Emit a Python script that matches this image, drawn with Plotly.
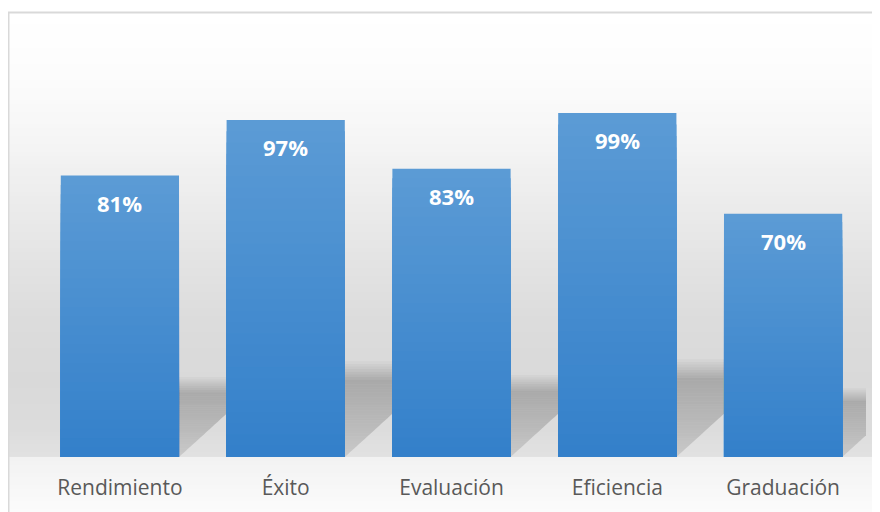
import plotly.graph_objects as go

# ---- data ----
categorias = ["Rendimiento", "Éxito", "Evaluación", "Eficiencia", "Graduación"]
valores = [81, 97, 83, 99, 70]
etiquetas = ["81%", "97%", "83%", "99%", "70%"]

# the page puts the figure 8px in from the top-left corner
OFF = 8
W, H = 880 - OFF, 512 - OFF
BASE_PX = 457          # baseline (page pixels)
TOP_PX = 40.1          # top of y range (page pixels)
Y_MAX = 120
PX_PER_UNIT = (BASE_PX - TOP_PX) / Y_MAX
X_LEFT, X_RIGHT = 37, 866
BAR_W = 0.713


def px_x(p):
    return (p - OFF) / W


def px_y(p):
    return 1 - (p - OFF) / H


def mix(c1, c2, t):
    return "rgb(%d,%d,%d)" % tuple(round(a + (b - a) * t) for a, b in zip(c1, c2))


def gray_at(p, stops):
    for (p0, g0), (p1, g1) in zip(stops, stops[1:]):
        if p0 <= p <= p1:
            t = (p - p0) / (p1 - p0) if p1 > p0 else 0
            return g0 + (g1 - g0) * t
    return stops[-1][1]


shapes = []

# -------- chart area background (vertical gradient) --------
wall = [(12, 255), (60, 253), (120, 248), (180, 239), (250, 229),
        (320, 220), (380, 217), (430, 220), (457, 226)]
step = 4
p = 12
while p < BASE_PX:
    q = min(p + step, BASE_PX)
    g = round(gray_at((p + q) / 2, wall))
    shapes.append(dict(type="rect", xref="paper", yref="paper", layer="below",
                       x0=px_x(8), x1=px_x(880 + 5), y0=px_y(q + 0.5), y1=px_y(p),
                       fillcolor="rgb(%d,%d,%d)" % (g, g, g), line=dict(width=0)))
    p = q

floor = [(457, 242), (512, 251)]
p = BASE_PX
while p < 512:
    q = min(p + step, 512)
    g = round(gray_at((p + q) / 2, floor))
    shapes.append(dict(type="rect", xref="paper", yref="paper", layer="below",
                       x0=px_x(8), x1=px_x(880 + 5), y0=px_y(q + 0.5), y1=px_y(p),
                       fillcolor="rgb(%d,%d,%d)" % (g, g, g), line=dict(width=0)))
    p = q

# frame
shapes.append(dict(type="rect", xref="paper", yref="paper", layer="above",
                   x0=px_x(8.6), x1=px_x(900), y0=px_y(530), y1=px_y(12.5),
                   fillcolor="rgba(0,0,0,0)", line=dict(color="#d9d9d9", width=1.8)))

# -------- perspective shadows behind bars --------
x_unit_px = (X_RIGHT - X_LEFT) / len(categorias)
for i, v in enumerate(valores):
    sh_px = 0.8 * v
    sh = sh_px / PX_PER_UNIT
    dx = 1.1 * sh_px / x_unit_px
    x0, x1 = i - BAR_W / 2, i + BAR_W / 2
    n = 30
    blur = 7
    for k in range(n + blur):
        ya = sh * k / n
        yb = sh * (k + 1) / n
        if k < n:
            a = 0.10 + 0.12 * (k + 1) / n
        else:
            a = 0.22 * (1 - (k - n + 1) / (blur + 1))
        oa, ob = dx * ya / sh, dx * yb / sh
        path = "M %f,%f L %f,%f L %f,%f L %f,%f Z" % (
            x0 + oa, ya, x1 + oa, ya, x1 + ob, yb, x0 + ob, yb)
        shapes.append(dict(type="path", xref="x", yref="y", layer="below", path=path,
                           fillcolor="rgba(0,0,0,%.3f)" % a, line=dict(width=0)))

fig = go.Figure()

# -------- bars with vertical gradient (light top, darker bottom) --------
top_c = (91, 155, 213)
bot_c = (52, 128, 202)
layers = 30
for k in range(layers):
    frac = 1 - k / layers
    fig.add_trace(go.Bar(
        x=categorias,
        y=[v * frac for v in valores],
        width=BAR_W,
        marker=dict(color=mix(top_c, bot_c, k / (layers - 1)), line=dict(width=0)),
        hoverinfo="skip",
        showlegend=False,
    ))

annotations = []
for c, v, t in zip(categorias, valores, etiquetas):
    annotations.append(dict(x=c, y=v, xref="x", yref="y", text="<b>" + t + "</b>",
                            showarrow=False, yshift=-27, yanchor="middle",
                            font=dict(family="Open Sans", size=22, color="white")))

fig.update_layout(
    width=W,
    height=H,
    barmode="overlay",
    margin=dict(l=0, r=0, t=0, b=0),
    paper_bgcolor="white",
    plot_bgcolor="rgba(0,0,0,0)",
    shapes=shapes,
    annotations=annotations,
    showlegend=False,
    xaxis=dict(
        domain=[px_x(X_LEFT), px_x(X_RIGHT)],
        range=[-0.5, 4.5],
        showgrid=False,
        zeroline=False,
        showline=False,
        ticks="outside",
        ticklen=12,
        tickcolor="rgba(0,0,0,0)",
        tickfont=dict(family="Open Sans", size=21, color="#595959"),
        automargin=False,
    ),
    yaxis=dict(
        domain=[px_y(BASE_PX), px_y(TOP_PX)],
        range=[0, Y_MAX],
        visible=False,
        automargin=False,
    ),
)

fig.write_html("out.html")
